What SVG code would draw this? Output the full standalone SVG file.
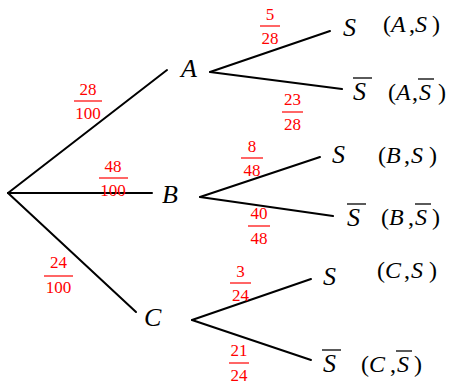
<svg xmlns="http://www.w3.org/2000/svg" width="449" height="387" viewBox="0 0 449 387">
<style>
.edge{stroke:#000;stroke-width:2;fill:none;stroke-linecap:round}
.v{font-family:"Liberation Serif","Times New Roman",serif;font-style:italic;font-size:26px;fill:#000}
.p{font-family:"Liberation Serif","Times New Roman",serif;font-size:24px;fill:#000}
.i{font-style:italic}
.ob{stroke:#000;stroke-width:1.3}
.fr{font-family:"Liberation Serif","Times New Roman",serif;font-size:17px;fill:#ff0000;text-anchor:middle}
.fb{stroke:#ff0000;stroke-width:1.2}
</style>
<rect width="449" height="387" fill="#fff"/>
<g id="connectors">
  <g id="e-root-A"><line class="edge" x1="8" y1="193" x2="167" y2="70"/>
    <text class="fr" x="88" y="95">28</text><line class="fb" x1="74" y1="101" x2="102" y2="101"/><text class="fr" x="88" y="119">100</text></g>
  <g id="e-root-B"><line class="edge" x1="8" y1="193" x2="152" y2="193"/>
    <text class="fr" x="113" y="172">48</text><line class="fb" x1="99" y1="178" x2="128" y2="178"/><text class="fr" x="113" y="196">100</text></g>
  <g id="e-root-C"><line class="edge" x1="8" y1="193" x2="136" y2="312"/>
    <text class="fr" x="58.5" y="268">24</text><line class="fb" x1="44" y1="276" x2="73" y2="276"/><text class="fr" x="58.5" y="293">100</text></g>
  <g id="e-A-S"><line class="edge" x1="210" y1="72" x2="330" y2="31"/>
    <text class="fr" x="270" y="20">5</text><line class="fb" x1="260" y1="26" x2="280" y2="26"/><text class="fr" x="270" y="44">28</text></g>
  <g id="e-A-Sb"><line class="edge" x1="210" y1="72" x2="342" y2="89"/>
    <text class="fr" x="292.5" y="105">23</text><line class="fb" x1="282" y1="112" x2="303" y2="112"/><text class="fr" x="292.5" y="130">28</text></g>
  <g id="e-B-S"><line class="edge" x1="200" y1="197" x2="320" y2="157"/>
    <text class="fr" x="252" y="152">8</text><line class="fb" x1="241" y1="158" x2="263" y2="158"/><text class="fr" x="252" y="176">48</text></g>
  <g id="e-B-Sb"><line class="edge" x1="200" y1="197" x2="333" y2="216"/>
    <text class="fr" x="259" y="219">40</text><line class="fb" x1="248" y1="226" x2="270" y2="226"/><text class="fr" x="259" y="244">48</text></g>
  <g id="e-C-S"><line class="edge" x1="192" y1="320" x2="311" y2="279"/>
    <text class="fr" x="240.5" y="277">3</text><line class="fb" x1="230" y1="283" x2="251" y2="283"/><text class="fr" x="240.5" y="301">24</text></g>
  <g id="e-C-Sb"><line class="edge" x1="192" y1="320" x2="311" y2="360"/>
    <text class="fr" x="239" y="356">21</text><line class="fb" x1="229" y1="363" x2="249" y2="363"/><text class="fr" x="239" y="381">24</text></g>
</g>
<g id="node-A"><text class="v" x="181" y="77">A</text></g>
<g id="node-B"><text class="v" x="162" y="203">B</text></g>
<g id="node-C"><text class="v" x="144" y="326">C</text></g>
<g id="leaf-AS">
  <text class="v" x="343" y="36">S</text>
  <text class="p" y="32"><tspan x="383">(</tspan><tspan class="i" x="391">A</tspan><tspan x="409">,</tspan><tspan class="i" x="415">S</tspan><tspan x="432">)</tspan></text>
</g>
<g id="leaf-ASb">
  <text class="v" x="353" y="100">S</text><line class="ob" x1="353" y1="78" x2="372" y2="78"/>
  <text class="p" y="100"><tspan x="388">(</tspan><tspan class="i" x="396">A</tspan><tspan x="412">,</tspan><tspan class="i" x="419">S</tspan><tspan x="438">)</tspan></text>
  <line class="ob" x1="418" y1="79" x2="434" y2="79"/>
</g>
<g id="leaf-BS">
  <text class="v" x="332" y="163">S</text>
  <text class="p" y="163"><tspan x="378">(</tspan><tspan class="i" x="386">B</tspan><tspan x="404">,</tspan><tspan class="i" x="411">S</tspan><tspan x="429">)</tspan></text>
</g>
<g id="leaf-BSb">
  <text class="v" x="347" y="226">S</text><line class="ob" x1="347" y1="204" x2="366" y2="204"/>
  <text class="p" y="225"><tspan x="381">(</tspan><tspan class="i" x="389">B</tspan><tspan x="408">,</tspan><tspan class="i" x="415">S</tspan><tspan x="432">)</tspan></text>
  <line class="ob" x1="415" y1="204" x2="431" y2="204"/>
</g>
<g id="leaf-CS">
  <text class="v" x="323" y="285">S</text>
  <text class="p" y="278"><tspan x="377">(</tspan><tspan class="i" x="385">C</tspan><tspan x="404">,</tspan><tspan class="i" x="411">S</tspan><tspan x="429">)</tspan></text>
</g>
<g id="leaf-CSb">
  <text class="v" x="323" y="372">S</text><line class="ob" x1="322" y1="350" x2="341" y2="350"/>
  <text class="p" y="372"><tspan x="361">(</tspan><tspan class="i" x="369">C</tspan><tspan x="390">,</tspan><tspan class="i" x="397">S</tspan><tspan x="414">)</tspan></text>
  <line class="ob" x1="396" y1="351" x2="412" y2="351"/>
</g>
</svg>
